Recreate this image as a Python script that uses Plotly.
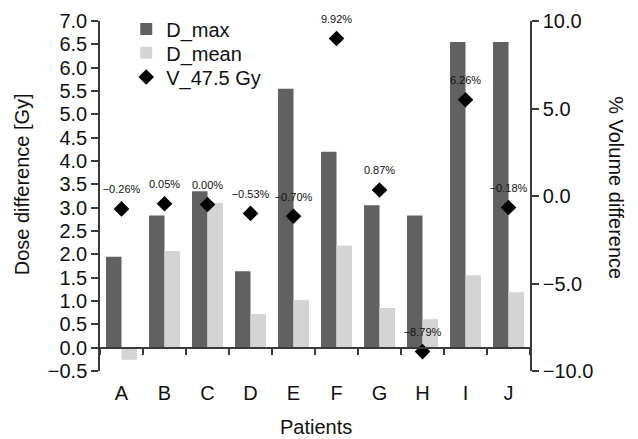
import plotly.graph_objects as go

patients = ["A", "B", "C", "D", "E", "F", "G", "H", "I", "J"]
d_max = [1.95, 2.83, 3.35, 1.64, 5.55, 4.20, 3.05, 2.83, 6.55, 6.55]
d_mean = [-0.26, 2.07, 3.10, 0.72, 1.02, 2.19, 0.85, 0.61, 1.55, 1.19]
v_475 = [-0.26, 0.05, 0.00, -0.53, -0.70, 9.92, 0.87, -8.79, 6.26, -0.18]
v_labels = ["\u22120.26%", "0.05%", "0.00%", "\u22120.53%", "\u22120.70%",
            "9.92%", "0.87%", "\u22128.79%", "6.26%", "\u22120.18%"]

left_range = [-0.5, 7.0]
left_ticks = [-0.5 + 0.5 * i for i in range(16)]
right_range = [-10.0, 10.0]
right_ticks = [-10.0, -5.0, 0.0, 5.0, 10.0]
marker_range = [-9.95, 10.97]

FONT = "Liberation Sans, Arial, Helvetica, sans-serif"
AX = "#3a3a3a"
TXT = "#111111"

fig = go.Figure()
fig.add_trace(go.Bar(x=patients, y=d_max, name="D_max", legend="legend",
                     marker=dict(color="#616161", line=dict(width=0))))
fig.add_trace(go.Bar(x=patients, y=d_mean, name="D_mean", legend="legend2",
                     marker=dict(color="#d4d4d4", line=dict(width=0))))
fig.add_trace(go.Scatter(x=patients, y=v_475, name="V_47.5 Gy", yaxis="y3",
                         legend="legend3", mode="markers",
                         marker=dict(symbol="diamond", size=12, color="black"),
                         cliponaxis=False))
fig.add_trace(go.Scatter(x=patients, y=v_475, yaxis="y3", mode="markers+text",
                         text=v_labels, textposition="top center",
                         textfont=dict(size=11, color=TXT, family=FONT),
                         marker=dict(size=19, color="rgba(0,0,0,0)"),
                         showlegend=False, cliponaxis=False, hoverinfo="skip"))
# invisible trace to create right axis
fig.add_trace(go.Scatter(x=[patients[0]], y=[None], yaxis="y2",
                         showlegend=False, hoverinfo="skip"))

zero_pos = (0 - left_range[0]) / (left_range[1] - left_range[0])

leg = dict(x=0.061, xanchor="left", yanchor="middle",
           bgcolor="rgba(0,0,0,0)", font=dict(size=20),
           tracegroupgap=0, itemsizing="constant")

fig.update_layout(
    width=638, height=439,
    margin=dict(l=100, r=108, t=21, b=68, autoexpand=False),
    paper_bgcolor="white", plot_bgcolor="white",
    font=dict(family=FONT, size=20, color=TXT),
    barmode="group", bargap=0.28, bargroupgap=0,
    showlegend=True,
    legend=dict(leg, y=0.977),
    legend2=dict(leg, y=0.909),
    legend3=dict(leg, y=0.840),
    xaxis=dict(type="category", anchor="free", position=zero_pos,
               range=[-0.5, len(patients) - 0.5], automargin=False,
               showline=True, linecolor=AX, linewidth=1.5,
               ticks="outside", tickson="boundaries", ticklen=7,
               tickcolor=AX, tickwidth=1.5, ticklabelstandoff=28,
               showgrid=False, zeroline=False,
               tickfont=dict(size=20)),
    yaxis=dict(range=left_range, tickvals=left_ticks, tickformat=".1f",
               automargin=False,
               showline=True, linecolor=AX, linewidth=1.5,
               ticks="outside", ticklen=7, tickcolor=AX, tickwidth=1.5,
               showgrid=False, zeroline=False, tickfont=dict(size=20)),
    yaxis2=dict(range=right_range, tickvals=right_ticks, tickformat=".1f",
                overlaying="y", side="right", anchor="x", automargin=False,
                showline=True, linecolor=AX, linewidth=1.5,
                ticks="outside", ticklen=7, tickcolor=AX, tickwidth=1.5,
                showgrid=False, zeroline=False, tickfont=dict(size=20)),
    yaxis3=dict(range=marker_range, overlaying="y", visible=False,
                automargin=False),
    annotations=[
        dict(text="Dose difference [Gy]", xref="paper", yref="paper",
             x=-0.181, y=0.534, textangle=-90, showarrow=False,
             font=dict(size=20), xanchor="center", yanchor="middle"),
        dict(text="% Volume difference", xref="paper", yref="paper",
             x=1.1995, y=0.523, textangle=90, showarrow=False,
             font=dict(size=20), xanchor="center", yanchor="middle"),
        dict(text="Patients", xref="paper", yref="paper",
             x=0.502, y=-0.16, showarrow=False,
             font=dict(size=20), xanchor="center", yanchor="middle"),
    ],
)

fig.write_html("out.html")
